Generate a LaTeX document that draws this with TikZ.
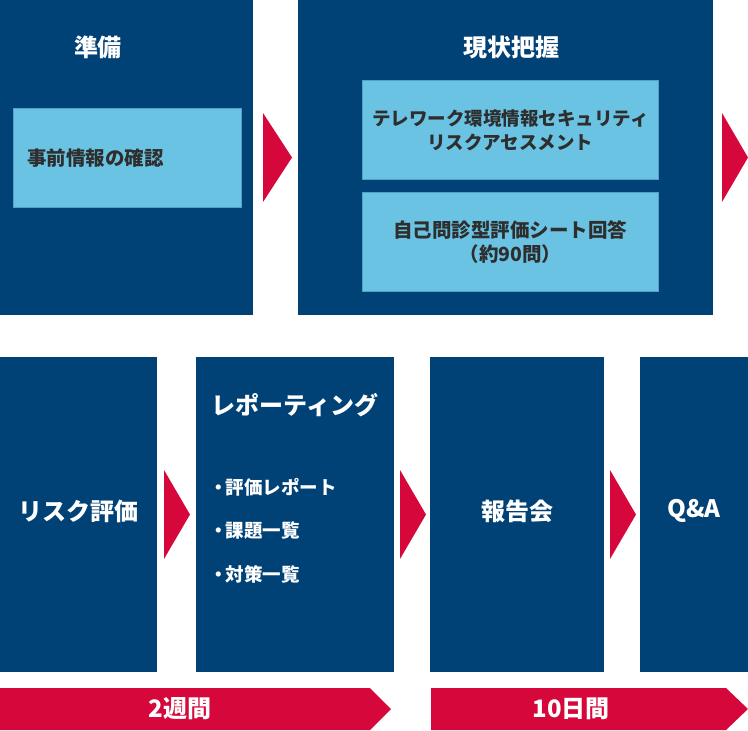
\documentclass[tikz,border=0pt]{standalone}
\usepackage{fontspec}
\setmainfont{Noto Sans CJK JP}
\definecolor{mynavy}{HTML}{004176}
\definecolor{mylightblue}{HTML}{6AC3E3}
\definecolor{myred}{HTML}{D6083B}
\definecolor{mytext}{HTML}{2E2E2E}
\usetikzlibrary{positioning}
\newcommand{\itemdot}{\kern0.15em・\kern-0.15em}
\tikzset{
	stagenode/.style={
			rectangle,
			anchor=north west,
			fill=mynavy,
			draw=none,
			inner sep=0pt
		},
	tasknode/.style={
			rectangle,
			anchor=north west,
			fill=mylightblue,
			draw=mylightblue!75!mynavy,
			line width=0.8pt,
			inner sep=0pt
		},
	titlenode/.style={
			inner sep=0pt,
			text=white,
			font=\bfseries\fontsize{24}{28}\selectfont
		},
	tasktext/.style={
			inner sep=0pt,
			text=mytext,
			align=center,
			font=\bfseries\fontsize{18.5}{24}\selectfont
		},
	itemnode/.style={
			inner sep=0pt,
			anchor=west,
			text=white,
			font=\bfseries\fontsize{18.5}{22}\selectfont
		},
	steparrow/.style={
			fill=myred
		},
	periodbar/.style={
			fill=myred
		}
}

\begin{document}
\begin{tikzpicture}[x=1pt, y=-1pt]
\useasboundingbox (0,0) rectangle (748,731);
% top row
\node[stagenode, minimum width=253, minimum height=315] (prep) at (0,0) {};
\node[stagenode, minimum width=415, minimum height=315] (grasp) at (298,0) {};
\node[tasknode, minimum width=228, minimum height=99] (check) at (13,108) {};
\node[tasknode, minimum width=296, minimum height=99] (assess) at (362,80) {};
\node[tasknode, minimum width=296, minimum height=99] (sheet) at (362,192) {};

\node[titlenode] (preptitle) at (98,47) {準備};
\node[titlenode] (grasptitle) at (511,47) {現状把握};
\node[tasktext, anchor=west, font=\bfseries\fontsize{19.5}{24}\selectfont] (checktext) at (27,158) {事前情報の確認};
\node[tasktext] (assesstext) at (assess.center) {テレワーク環境情報セキュリティ\\リスクアセスメント};
\node[tasktext, font=\bfseries\fontsize{19.5}{24}\selectfont] (sheettext) at (sheet.center) {自己問診型評価シート回答\\（約90問）};

\fill[steparrow] (263,113) -- (292,157.5) -- (263,202) -- cycle;
\fill[steparrow] (722,113) -- (748,157.5) -- (722,202) -- cycle;

% bottom row
\node[stagenode, minimum width=157, minimum height=315] (risk) at (0,357) {};
\node[stagenode, minimum width=198, minimum height=315] (report) at (196,357) {};
\node[stagenode, minimum width=174, minimum height=315] (meeting) at (430,357) {};
\node[stagenode, minimum width=108, minimum height=315] (qa) at (640,357) {};

\node[titlenode] (risktitle) at (78.5,511) {リスク評価};
\node[titlenode] (reporttitle) at (295,405) {レポーティング};
\node[titlenode] (meetingtitle) at (517,511) {報告会};
\node[titlenode] (qatitle) at (694,511) {Q\&A};

\node[itemnode] (item1) at (207,487) {\itemdot 評価レポート};
\node[itemnode] (item2) at (207,531) {\itemdot 課題一覧};
\node[itemnode] (item3) at (207,574) {\itemdot 対策一覧};

\fill[steparrow] (164,470) -- (190,514.5) -- (164,559) -- cycle;
\fill[steparrow] (400,470) -- (426,514.5) -- (400,559) -- cycle;
\fill[steparrow] (610,470) -- (636,514.5) -- (610,559) -- cycle;

% period bars
\fill[periodbar] (0,688) -- (370,688) -- (391,709) -- (370,730) -- (0,730) -- cycle;
\fill[periodbar] (431,688) -- (726,688) -- (748,709) -- (726,730) -- (431,730) -- cycle;
\node[titlenode] (weeks) at (180,709) {2週間};
\node[titlenode] (days) at (571,709) {10日間};
\end{tikzpicture}
\end{document}
